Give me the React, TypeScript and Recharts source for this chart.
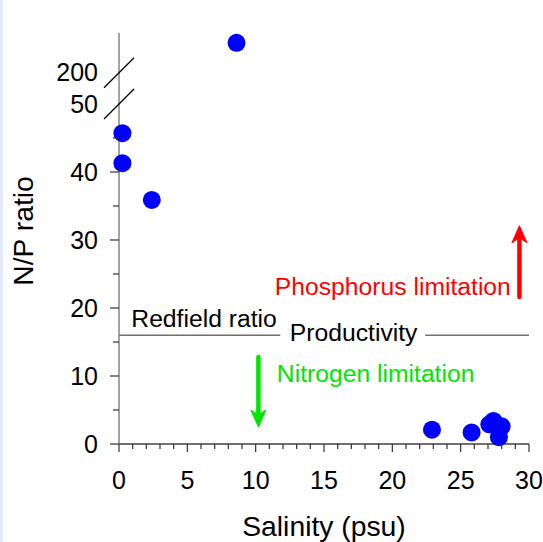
import { ReferenceDot, ReferenceLine, Scatter, ScatterChart, XAxis, YAxis } from "recharts";

// salinity (psu) and N/P ratio of each sample
const salinity = [0.25, 0.25, 2.4, 8.6, 22.9, 25.8, 27.1, 27.4, 28.0, 27.8];
const npRatio = [45.7, 41.3, 35.9, 250, 2.1, 1.7, 2.9, 3.4, 2.6, 1.0];

const salinityTicks = Array.from({ length: 31 }, (_, i) => i);
const salinityLabels = [0, 5, 10, 15, 20, 25, 30];
const ratioTicks = [0, 5, 10, 15, 20, 25, 30, 35, 40, 45, 50, 200];
const ratioLabels = [0, 10, 20, 30, 40, 50, 200];
const redfield = 16;

// broken y axis: linear up to 50, then a compressed segment from 200 upward
const BREAK_LOW = 50;
const BREAK_HIGH = 200;
const HIGH_AT = 54.6;
const HIGH_SLOPE = 0.088;
const AXIS_TOP = 60.44;
const toAxis = (v: number) => (v <= BREAK_LOW ? v : HIGH_AT + (v - BREAK_HIGH) * HIGH_SLOPE);

const points = salinity.map((s, i) => ({ x: s, y: toAxis(npRatio[i]) }));

const FONT = '"Liberation Sans", Arial, Helvetica, sans-serif';
const TICK_FONT = 25;
const NOTE_FONT = 24.7;
const TITLE_FONT = 28.3;

function SalinityTick({ x, y, payload }: any) {
  const v = payload.value;
  const major = salinityLabels.includes(v);
  return (
    <g>
      <line x1={x} x2={x} y1={y} y2={y + (major ? 8 : 5)} stroke="#333" strokeWidth={1.2} />
      {major && (
        <text x={x} y={y + 36} dy="0.35em" textAnchor="middle" fontSize={TICK_FONT} fontFamily={FONT} fill="#000">
          {v}
        </text>
      )}
    </g>
  );
}

function RatioTick({ x, y, payload }: any) {
  const real = ratioTicks.find((t) => Math.abs(toAxis(t) - payload.value) < 1e-6) ?? payload.value;
  const labelled = ratioLabels.includes(real);
  const isBreak = real >= BREAK_LOW;
  return (
    <g>
      {isBreak ? (
        <line x1={x - 15} y1={y + 15} x2={x + 15} y2={y - 15} stroke="#000" strokeWidth={1.2} />
      ) : (
        <line x1={x - (labelled ? 9 : 6)} x2={x} y1={y} y2={y} stroke="#333" strokeWidth={1.2} />
      )}
      {labelled && (
        <text x={x - 21} y={y} dy="0.35em" textAnchor="end" fontSize={TICK_FONT} fontFamily={FONT} fill="#000">
          {real}
        </text>
      )}
    </g>
  );
}

function Arrow({ x1, y1, x2, y2, color }: any) {
  const len = Math.hypot(x2 - x1, y2 - y1) || 1;
  const ux = (x2 - x1) / len;
  const uy = (y2 - y1) / len;
  const px = -uy;
  const py = ux;
  const head = 17;
  const half = 7.5;
  const notch = 12;
  const bx = x2 - ux * head;
  const by = y2 - uy * head;
  const nx = x2 - ux * notch;
  const ny = y2 - uy * notch;
  return (
    <g>
      <line x1={x1} y1={y1} x2={nx} y2={ny} stroke={color} strokeWidth={4.5} strokeLinecap="round" />
      <path
        d={`M${x2},${y2} L${bx + px * half},${by + py * half} L${nx},${ny} L${bx - px * half},${by - py * half} Z`}
        fill={color}
        stroke={color}
        strokeWidth={1}
        strokeLinejoin="round"
      />
    </g>
  );
}

const textLabel = (text: string, color: string, dy = 0) => ({
  content: ({ viewBox }: any) => (
    <text x={viewBox.x} y={viewBox.y + dy} fill={color} fontSize={NOTE_FONT} fontFamily={FONT}>
      {text}
    </text>
  ),
});

export default function App() {
  return (
    <div style={{ position: "absolute", left: 0, top: 0, width: 543, height: 542, background: "#fff" }}>
      <div style={{ position: "absolute", left: 0, top: 0, width: 3, height: 542, background: "#e3ebfb" }} />
      <ScatterChart width={543} height={542} margin={{ top: 33, right: 14, left: 0, bottom: 0 }}>
        <XAxis
          type="number"
          dataKey="x"
          domain={[0, 30]}
          ticks={salinityTicks}
          interval={0}
          height={98}
          tickSize={0}
          tickMargin={0}
          tick={<SalinityTick />}
          axisLine={{ stroke: "#404040", strokeWidth: 1.5 }}
          label={{
            content: ({ viewBox }: any) => (
              <text
                x={viewBox.x + viewBox.width / 2}
                y={viewBox.y + 92}
                textAnchor="middle"
                fontSize={TITLE_FONT}
                fontFamily={FONT}
                fill="#000"
              >
                Salinity (psu)
              </text>
            ),
          }}
        />
        <YAxis
          type="number"
          dataKey="y"
          domain={[0, AXIS_TOP]}
          ticks={ratioTicks.map(toAxis)}
          interval={0}
          width={119}
          tickSize={0}
          tickMargin={0}
          tick={<RatioTick />}
          axisLine={{ stroke: "#858585", strokeWidth: 1.5 }}
          label={{
            content: ({ viewBox }: any) => (
              <text
                x={viewBox.x + 33}
                y={viewBox.y + 198}
                transform={`rotate(-90 ${viewBox.x + 33} ${viewBox.y + 198})`}
                textAnchor="middle"
                fontSize={TITLE_FONT}
                fontFamily={FONT}
                fill="#000"
              >
                N/P ratio
              </text>
            ),
          }}
        />
        <ReferenceLine segment={[{ x: 0, y: redfield }, { x: 11.8, y: redfield }]} stroke="#707070" strokeWidth={1.5} />
        <ReferenceLine segment={[{ x: 22.4, y: redfield }, { x: 30, y: redfield }]} stroke="#707070" strokeWidth={1.5} />
        <ReferenceDot x={0.9} y={redfield} r={0} fill="none" stroke="none" label={textLabel("Redfield ratio", "#000", -8)} />
        <ReferenceDot x={12.5} y={redfield} r={0} fill="none" stroke="none" label={textLabel("Productivity", "#000", 6)} />
        <ReferenceDot x={11.55} y={9.1} r={0} fill="none" stroke="none" label={textLabel("Nitrogen limitation", "#00e600")} />
        <ReferenceDot x={11.4} y={21.9} r={0} fill="none" stroke="none" label={textLabel("Phosphorus limitation", "#ff0000")} />
        <ReferenceLine
          segment={[{ x: 10.2, y: 12.8 }, { x: 10.2, y: 2.5 }]}
          shape={(p: any) => <Arrow {...p} color="#00e600" />}
        />
        <ReferenceLine
          segment={[{ x: 29.3, y: 21.6 }, { x: 29.3, y: 32.1 }]}
          shape={(p: any) => <Arrow {...p} color="#ff0000" />}
        />
        <Scatter
          data={points}
          isAnimationActive={false}
          shape={(p: any) => <circle cx={p.cx} cy={p.cy} r={9} fill="#0000ff" />}
        />
      </ScatterChart>
    </div>
  );
}
